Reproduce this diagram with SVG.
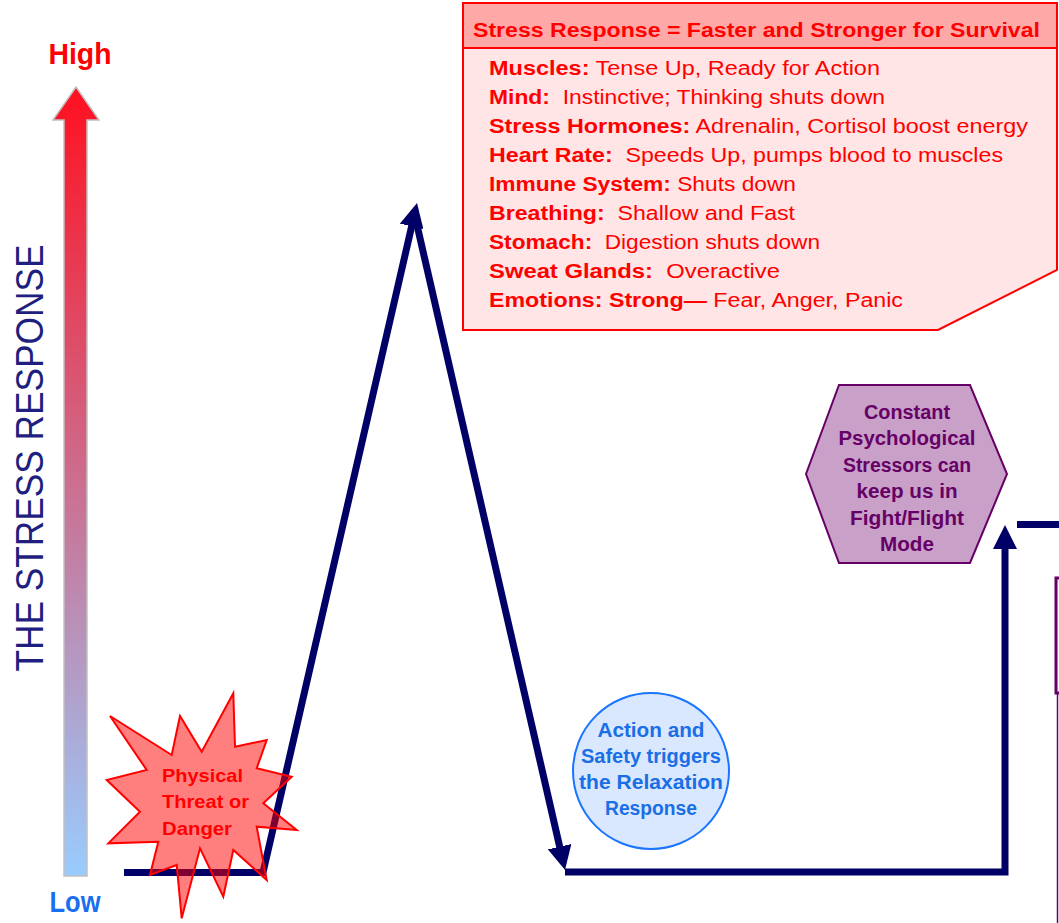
<svg xmlns="http://www.w3.org/2000/svg" width="1059" height="923" viewBox="0 0 1059 923">
<style>
.lbl{font-family:"Liberation Sans",Arial,sans-serif;font-weight:bold}
.body{font-family:"Liberation Sans",Arial,sans-serif;font-size:20px;fill:#ff0000;white-space:pre}
.b{font-weight:bold}
.nav{fill:none;stroke:#000066;stroke-width:7;stroke-linejoin:miter;stroke-miterlimit:10}
</style>
<defs>
<linearGradient id="grad" gradientUnits="userSpaceOnUse" x1="0" y1="87" x2="0" y2="876">
<stop offset="0" stop-color="#ff1020"/>
<stop offset="1" stop-color="#99ccff"/>
</linearGradient>
<marker id="ah" markerUnits="userSpaceOnUse" markerWidth="24" markerHeight="24" viewBox="0 0 24 24" refX="10" refY="12" orient="auto">
<path d="M0,0 L24,12 L0,24 Z" fill="#000066"/>
</marker>
</defs>
<rect width="1059" height="923" fill="#ffffff"/>

<g id="axis">
<polygon points="76,87 99,120 87,120 87,876 64,876 64,120 53,120" fill="url(#grad)" stroke="#c0c0c0" stroke-width="1.5"/>
<text class="lbl" x="80" y="64" font-size="29" fill="#ff0000" text-anchor="middle" textLength="63" lengthAdjust="spacingAndGlyphs">High</text>
<text class="lbl" x="75" y="912" font-size="30" fill="#1a6ef0" text-anchor="middle" textLength="51" lengthAdjust="spacingAndGlyphs">Low</text>
<text x="0" y="0" transform="translate(43,458) rotate(-90)" font-family="'Liberation Sans',Arial,sans-serif" font-size="38" fill="#1f1f80" text-anchor="middle" textLength="427" lengthAdjust="spacingAndGlyphs">THE STRESS RESPONSE</text>
</g>

<g id="connectors">
<path class="nav" d="M124,872.5 L263,872.5 L413.9,216.6" marker-end="url(#ah)"/>
<path class="nav" d="M414,212 L561.9,856.4" marker-end="url(#ah)"/>
<path class="nav" d="M565,872 L1005,872 L1005,539" marker-end="url(#ah)"/>
<path class="nav" d="M1017,524.5 L1059,524.5"/>
</g>

<g id="threat">
<polygon points="110,716 171.7,755 180,716 201.7,751.7 233.3,693.3 235,746.7 266.7,740 256.7,768.3 291.7,776.7 263.3,803.3 296.7,830 256.7,826.7 266.7,880 233.3,850 223.3,896.7 200,848.3 181.7,918.3 176.7,865 150,875 158.3,841.7 108.3,843.3 140,811.7 106.7,780 146.7,770" fill="#ff0000" fill-opacity="0.5" stroke="#ff0000" stroke-width="2" stroke-linejoin="miter"/>
<g class="lbl" font-size="19" fill="#ff0000">
<text x="162" y="782" textLength="81" lengthAdjust="spacingAndGlyphs">Physical</text>
<text x="162" y="808" textLength="87" lengthAdjust="spacingAndGlyphs">Threat or</text>
<text x="162" y="835" textLength="70" lengthAdjust="spacingAndGlyphs">Danger</text>
</g>
</g>

<g id="stress-box">
<path d="M463,3 H1057 V270 L938,330 H463 Z" fill="#ffe5e5" stroke="#ff0000" stroke-width="2"/>
<rect x="463" y="3" width="594" height="45" fill="#ffa8a8" stroke="#ff0000" stroke-width="2"/>
<text class="lbl" x="473" y="37" font-size="20" fill="#ff0000" textLength="567" lengthAdjust="spacingAndGlyphs">Stress Response = Faster and Stronger for Survival</text>
<text class="body" x="489" y="75" textLength="391" lengthAdjust="spacingAndGlyphs"><tspan class="b">Muscles:</tspan> Tense Up, Ready for Action</text>
<text class="body" x="489" y="104" textLength="396" lengthAdjust="spacingAndGlyphs"><tspan class="b">Mind:</tspan>  Instinctive; Thinking shuts down</text>
<text class="body" x="489" y="133" textLength="539" lengthAdjust="spacingAndGlyphs"><tspan class="b">Stress Hormones:</tspan> Adrenalin, Cortisol boost energy</text>
<text class="body" x="489" y="162" textLength="514" lengthAdjust="spacingAndGlyphs"><tspan class="b">Heart Rate:</tspan>  Speeds Up, pumps blood to muscles</text>
<text class="body" x="489" y="191" textLength="307" lengthAdjust="spacingAndGlyphs"><tspan class="b">Immune System:</tspan> Shuts down</text>
<text class="body" x="489" y="220" textLength="306" lengthAdjust="spacingAndGlyphs"><tspan class="b">Breathing:</tspan>  Shallow and Fast</text>
<text class="body" x="489" y="249" textLength="331" lengthAdjust="spacingAndGlyphs"><tspan class="b">Stomach:</tspan>  Digestion shuts down</text>
<text class="body" x="489" y="278" textLength="291" lengthAdjust="spacingAndGlyphs"><tspan class="b">Sweat Glands:</tspan>  Overactive</text>
<text class="body" x="489" y="307" textLength="414" lengthAdjust="spacingAndGlyphs"><tspan class="b">Emotions: Strong—</tspan> Fear, Anger, Panic</text>
</g>

<g id="relaxation">
<circle cx="651" cy="771" r="78" fill="#d9e8ff" stroke="#1a75ff" stroke-width="2"/>
<g class="lbl" font-size="19.5" fill="#1a6ee6" text-anchor="middle">
<text x="651" y="737" textLength="107" lengthAdjust="spacingAndGlyphs">Action and</text>
<text x="651" y="763" textLength="140" lengthAdjust="spacingAndGlyphs">Safety triggers</text>
<text x="651" y="789" textLength="144" lengthAdjust="spacingAndGlyphs">the Relaxation</text>
<text x="651" y="815" textLength="92" lengthAdjust="spacingAndGlyphs">Response</text>
</g>
</g>

<g id="psych">
<polygon points="806,474 839,385 970,385 1007,474 970,563 839,563" fill="#c8a0c8" stroke="#660066" stroke-width="2"/>
<g class="lbl" font-size="19.5" fill="#660066" text-anchor="middle">
<text x="907" y="419" textLength="86" lengthAdjust="spacingAndGlyphs">Constant</text>
<text x="907" y="445" textLength="137" lengthAdjust="spacingAndGlyphs">Psychological</text>
<text x="907" y="472" textLength="128" lengthAdjust="spacingAndGlyphs">Stressors can</text>
<text x="907" y="498" textLength="101" lengthAdjust="spacingAndGlyphs">keep us in</text>
<text x="907" y="525" textLength="114" lengthAdjust="spacingAndGlyphs">Fight/Flight</text>
<text x="907" y="551" textLength="54" lengthAdjust="spacingAndGlyphs">Mode</text>
</g>
</g>

<g id="offscreen">
<rect x="1056" y="578" width="20" height="115" fill="none" stroke="#660066" stroke-width="3"/>
<line x1="1057.5" y1="693" x2="1057.5" y2="923" stroke="#660066" stroke-width="1.5"/>
</g>
</svg>
